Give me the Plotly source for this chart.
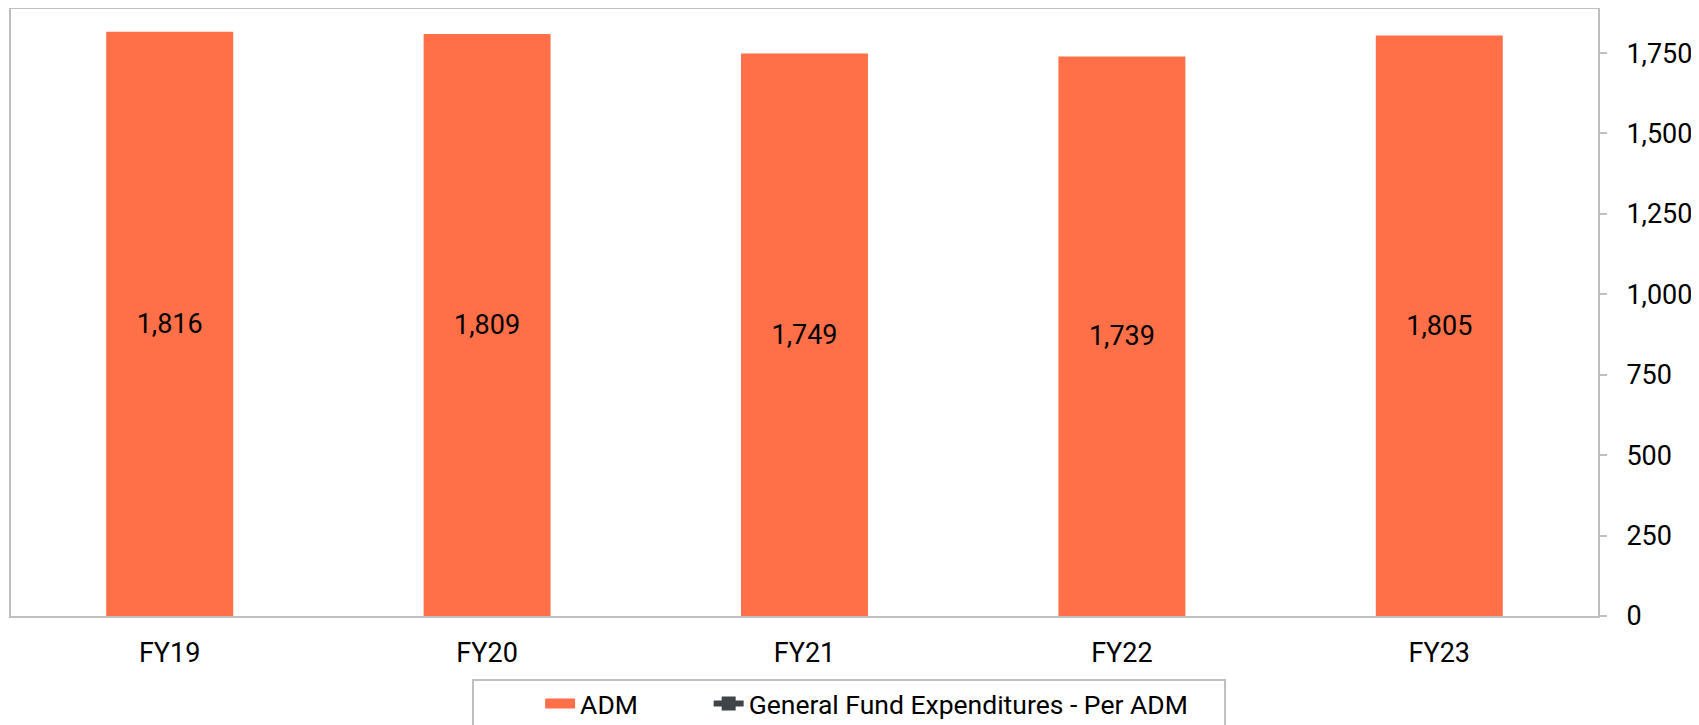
import plotly.graph_objects as go

years = ["FY19", "FY20", "FY21", "FY22", "FY23"]
adm = [1816, 1809, 1749, 1739, 1805]
# per-ADM expenditure line is listed in the legend but not drawn in the source chart
per_adm = [None, None, None, None, None]

y_ticks = [0, 250, 500, 750, 1000, 1250, 1500, 1750]

BAR = "#FF7049"
GRID = "#BFBFBF"
FONT = "Roboto"
NB = "\u00a0"

fig = go.Figure()
fig.add_trace(go.Bar(
    x=years, y=adm, name="ADM", showlegend=False,
    marker=dict(color=BAR, line=dict(width=0)),
    texttemplate="%{y:,}", textposition="inside", insidetextanchor="middle",
    textangle=0, textfont=dict(color="black", size=27, family=FONT),
))
# legend-only entry so the swatch is a wide block like the original
fig.add_trace(go.Scatter(
    x=years, y=per_adm, name="ADM" + NB * 10, mode="lines",
    line=dict(color=BAR, width=14),
))
fig.add_trace(go.Scatter(
    x=years, y=per_adm, name="General Fund Expenditures - Per ADM",
    mode="lines+markers",
    line=dict(color="#3F4448", width=6), marker=dict(symbol="square", size=14, color="#3F4448"),
))

# page body adds an 8px offset, so the figure is a bit smaller than the window
fig.update_layout(
    width=1691, height=717,
    margin=dict(l=3, r=101, t=1, b=109, autoexpand=False),
    paper_bgcolor="white", plot_bgcolor="white",
    font=dict(family=FONT, size=27, color="black"),
    bargap=0.6,
    showlegend=True,
    legend=dict(orientation="h", x=0.3334, xanchor="left", y=-0.105, yanchor="top",
                borderwidth=0, bgcolor="rgba(0,0,0,0)", font=dict(size=26.5, color="black"),
                traceorder="normal", itemwidth=30),
    shapes=[dict(type="rect", xref="paper", yref="paper", x0=0.2911, x1=0.765,
                 y0=-0.1054, y1=-0.3, line=dict(color=GRID, width=2), layer="below")],
)
fig.update_xaxes(showline=True, linecolor=GRID, linewidth=2, mirror=True,
                 showgrid=False, ticks="", tickfont=dict(size=27),
                 ticklabelstandoff=12)
fig.update_yaxes(side="right", range=[0, 1887], tickvals=y_ticks, tickformat=",",
                 showline=True, linecolor=GRID, linewidth=2, mirror=True,
                 showgrid=False, zeroline=False, ticks="outside", ticklen=7,
                 tickcolor=GRID, tickwidth=2, ticklabelstandoff=14,
                 tickfont=dict(size=27))

fig.write_html("out.html")
